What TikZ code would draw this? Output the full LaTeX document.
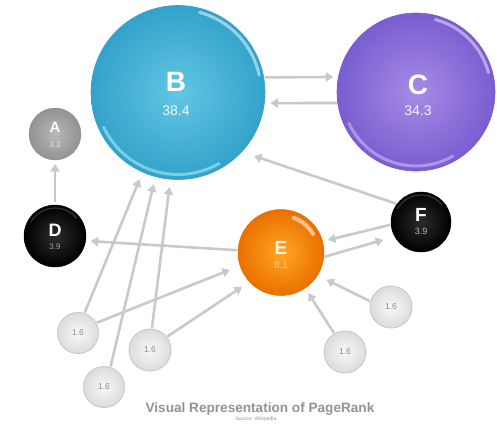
\documentclass[tikz,border=0pt]{standalone}
\usepackage{fontspec}
\setmainfont{Liberation Sans}
\usetikzlibrary{arrows.meta,calc}
\definecolor{arrowgray}{HTML}{C9C9C9}
\definecolor{Bin}{HTML}{62C6E4}
\definecolor{Bout}{HTML}{33A2CA}
\definecolor{Bhi}{HTML}{9BE0F2}
\definecolor{Cin}{HTML}{A68BE6}
\definecolor{Cout}{HTML}{7A5DD0}
\definecolor{Chi}{HTML}{C2AEF2}
\definecolor{Ain}{HTML}{B8B8B8}
\definecolor{Aout}{HTML}{929292}
\definecolor{Ein}{HTML}{FFA624}
\definecolor{Eout}{HTML}{EA7000}
\definecolor{Kin}{HTML}{2C2C2C}
\definecolor{Kout}{HTML}{000000}
\definecolor{Sin}{HTML}{F8F8F8}
\definecolor{Sout}{HTML}{DCDCDC}
\definecolor{Sborder}{HTML}{C8C8C8}
\definecolor{smalltext}{HTML}{8A8A8A}
\definecolor{titlegray}{HTML}{939393}
\begin{document}
\begin{tikzpicture}[x=1pt,y=-1pt,
  arr/.style={draw=arrowgray, line width=2.6pt, -{Triangle[length=7.5pt,width=9pt]}, shorten <=1pt},
  ball/.style={circle, inner sep=0pt, outer sep=0pt},
  small/.style={ball, minimum size=41pt, inner color=Sin, outer color=Sout, draw=Sborder, line width=0.9pt, font=\fontsize{8.5}{9}\selectfont, text=smalltext},
  lbl/.style={inner sep=0pt},
  gloss/.style={line cap=round, line width=#1},
]
\useasboundingbox[fill=white] (0,0) rectangle (497,424);

% spheres
\node[ball, minimum size=174pt, inner color=Bin, outer color=Bout, draw=Bout, line width=0.6pt] (B) at (178,92.5) {};
\node[ball, minimum size=158pt, inner color=Cin, outer color=Cout, draw=Cout, line width=0.6pt] (C) at (416,92) {};
\node[ball, minimum size=52pt, inner color=Ain, outer color=Aout, draw=Aout, line width=0.4pt] (A) at (55,134) {};
\node[ball, minimum size=62pt, inner color=Kin, outer color=Kout, draw=Kout, line width=0.4pt] (D) at (55,236) {};
\node[ball, minimum size=86pt, inner color=Ein, outer color=Eout, draw=Eout, line width=0.5pt] (E) at (281,252.5) {};
\node[ball, minimum size=60pt, inner color=Kin, outer color=Kout, draw=Kout, line width=0.4pt] (F) at (421,222) {};

\node[small] (n1) at (78,333) {1.6};
\node[small] (n2) at (104,387) {1.6};
\node[small, minimum size=42pt] (n3) at (150,350) {1.6};
\node[small, minimum size=42pt] (n4) at (345,352) {1.6};
\node[small, minimum size=42pt] (n5) at (391,307) {1.6};

% gloss highlights
\begin{scope}[shift={(B.center)}, y=1pt]
  \draw[gloss=3pt, white, opacity=0.5] (75:83) arc[start angle=75, end angle=12, radius=83];
  \draw[gloss=3pt, Bhi, opacity=0.7] (205:82) arc[start angle=205, end angle=300, radius=82];
\end{scope}
\begin{scope}[shift={(C.center)}, y=1pt]
  \draw[gloss=3pt, white, opacity=0.45] (75:75) arc[start angle=75, end angle=15, radius=75];
  \draw[gloss=3pt, Chi, opacity=0.7] (205:74) arc[start angle=205, end angle=300, radius=74];
\end{scope}
\begin{scope}[shift={(E.center)}, y=1pt]
  \draw[gloss=4pt, white, opacity=0.55] (70:37) arc[start angle=70, end angle=30, radius=37];
\end{scope}
\begin{scope}[shift={(D.center)}, y=1pt]
  \draw[gloss=1.2pt, gray, opacity=0.4] (150:28) arc[start angle=150, end angle=40, radius=28];
\end{scope}
\begin{scope}[shift={(F.center)}, y=1pt]
  \draw[gloss=1.2pt, gray, opacity=0.4] (150:27) arc[start angle=150, end angle=40, radius=27];
\end{scope}

% labels
\node[lbl, text=white, font=\fontsize{28}{28}\selectfont\bfseries] (Bl) at (176,82) {B};
\node[lbl, text=white!92!Bin, font=\fontsize{14}{14}\selectfont] (Bv) at (176,111) {38.4};
\node[lbl, text=white, font=\fontsize{28}{28}\selectfont\bfseries] (Cl) at (418,85) {C};
\node[lbl, text=white!90!Cin, font=\fontsize{14}{14}\selectfont] (Cv) at (418,111) {34.3};
\node[lbl, text=white!95!Ain, font=\fontsize{15}{15}\selectfont\bfseries] (Al) at (55,127.5) {A};
\node[lbl, text=white!60!Ain, font=\fontsize{8}{8}\selectfont] (Av) at (55,145) {3.3};
\node[lbl, text=white, font=\fontsize{18}{18}\selectfont\bfseries] (Dl) at (55,230) {D};
\node[lbl, text=white!65!black, font=\fontsize{8}{8}\selectfont] (Dv) at (55,247) {3.9};
\node[lbl, text=white!85!Ein, font=\fontsize{19}{19}\selectfont\bfseries] (El) at (281,248) {E};
\node[lbl, text=white!45!Ein, font=\fontsize{10}{10}\selectfont] (Ev) at (281,265.5) {8.1};
\node[lbl, text=white, font=\fontsize{19}{19}\selectfont\bfseries] (Fl) at (421,215) {F};
\node[lbl, text=white!72!black, font=\fontsize{9}{9}\selectfont] (Fv) at (421,231.7) {3.9};

% connectors
\draw[arr, shorten >=5pt] (B.10) -- (C.169);
\draw[arr, shorten >=6pt] (C.-172) -- (B.-7);
\draw[arr, shorten >=4pt, shorten <=3pt] (D.90) -- (A.-90);
\draw[arr, shorten >=13pt] (F.143) -- (B.-43);
\draw[arr, shorten >=5pt] (E.177) -- (D.-9);
\draw[arr, shorten >=5.5pt] (F.-175) -- (E.15);
\draw[arr, shorten >=12pt] (E.-6) -- (F.-151);
\draw[arr, shorten >=8pt] (n1.72) -- (B.-114);
\draw[arr, shorten >=8pt] (n2.72) -- (B.-105);
\draw[arr, shorten >=8pt] (n3.85) -- (B.-95);
\draw[arr, shorten >=11pt] (n1.29) -- (E.-162);
\draw[arr, shorten >=9pt] (n3.38) -- (E.-137);
\draw[arr, shorten >=6pt] (n4.120) -- (E.-56);
\draw[arr, shorten >=10pt] (n5.165) -- (E.-32);

% caption
\node[font=\fontsize{13.6}{14}\selectfont\bfseries, text=titlegray] (title) at (260,409) {Visual Representation of PageRank};
\node[font=\fontsize{5}{5}\selectfont, text=titlegray] (src) at (256,419.5) {Source: Wikipedia};
\end{tikzpicture}
\end{document}
